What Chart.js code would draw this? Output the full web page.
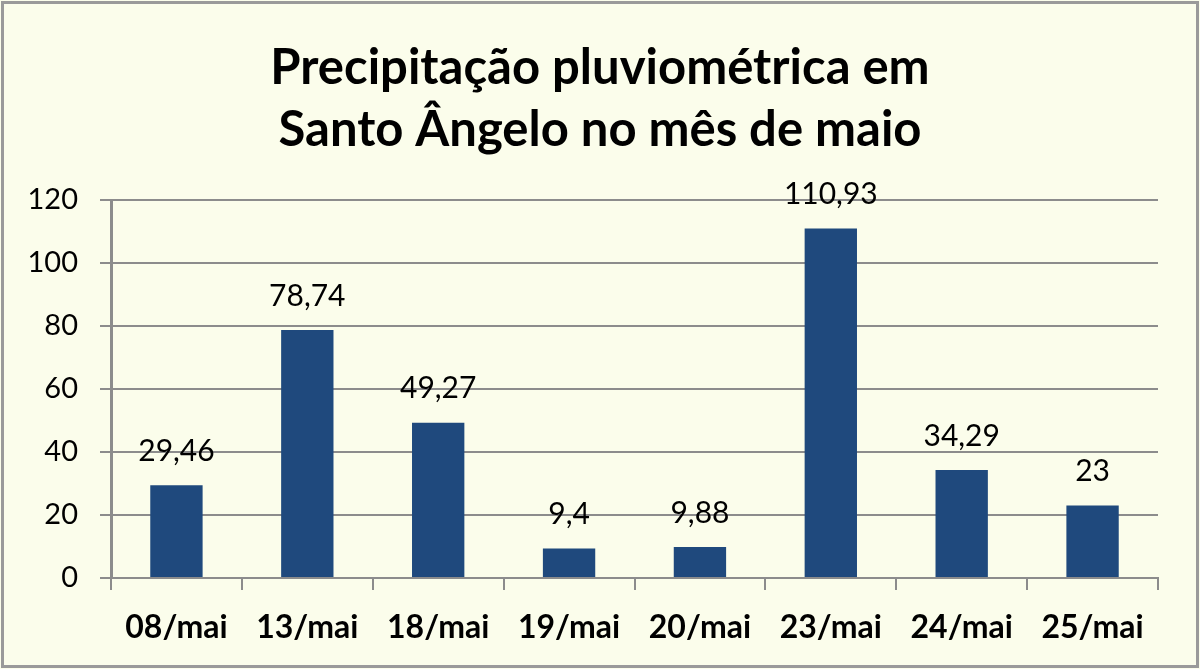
<!DOCTYPE html>
<html>
<head>
<meta charset="utf-8">
<script src="https://cdn.jsdelivr.net/npm/chart.js@4.4.1/dist/chart.umd.min.js"></script>
<style>
  html, body { margin: 0; padding: 0; background: #fbfdeb; }
  .chart-container { width: 1200px; height: 669px; position: relative; }
</style>
</head>
<body>
<div class="chart-container"><canvas id="rainChart" width="1200" height="669"></canvas></div>
<script>
const titleLines = ['Precipitação pluviométrica em', 'Santo Ângelo no mês de maio'];
const days = ['08/mai', '13/mai', '18/mai', '19/mai', '20/mai', '23/mai', '24/mai', '25/mai'];
const rainfall = [29.46, 78.74, 49.27, 9.4, 9.88, 110.93, 34.29, 23];
const yTicks = [0, 20, 40, 60, 80, 100, 120];

const gridGray = '#8c8c8c';

// fundo creme e moldura cinza
const frame = {
    id: 'frame',
    beforeDraw(chart) {
        const ctx = chart.ctx;
        ctx.save();
        ctx.fillStyle = '#fbfdeb';
        ctx.fillRect(0, 0, chart.width, chart.height);
        ctx.strokeStyle = '#9a9a9a';
        ctx.lineWidth = 3;
        ctx.strokeRect(2.5, 2.5, chart.width - 5, chart.height - 5);
        ctx.restore();
    }
};

// rótulos dos valores acima das barras, com vírgula decimal
const valueLabels = {
    id: 'valueLabels',
    afterDatasetsDraw(chart) {
        const ctx = chart.ctx;
        ctx.save();
        ctx.font = '30px Lato';
        ctx.fillStyle = '#000';
        ctx.textAlign = 'center';
        ctx.textBaseline = 'middle';
        chart.getDatasetMeta(0).data.forEach((bar, i) => {
            ctx.fillText(String(rainfall[i]).replace('.', ','), bar.x, bar.y - 34);
        });
        ctx.restore();
    }
};

new Chart(document.getElementById('rainChart'), {
    type: 'bar',
    data: {
        labels: days,
        datasets: [{
            data: rainfall,
            backgroundColor: '#1f497d',
            borderWidth: 0,
            categoryPercentage: 1,
            barPercentage: 0.4
        }]
    },
    options: {
        responsive: false,
        animation: false,
        devicePixelRatio: 1,
        layout: { padding: 0 },
        plugins: {
            legend: { display: false },
            tooltip: { enabled: false },
            title: {
                display: true,
                text: titleLines,
                color: '#000',
                font: { family: 'Lato', size: 49, weight: 'bold', lineHeight: 62 / 49 },
                padding: { top: 37, bottom: 39 }
            }
        },
        scales: {
            x: {
                grid: {
                    drawOnChartArea: false,
                    drawTicks: true,
                    tickLength: 12,
                    color: gridGray,
                    lineWidth: 2
                },
                border: { display: true, color: gridGray, width: 2 },
                ticks: {
                    color: '#000',
                    padding: 18,
                    font: { family: 'Lato', size: 32, weight: 'bold' }
                },
                afterFit(scale) { scale.height = 91; }
            },
            y: {
                min: 0,
                max: 120,
                afterBuildTicks(scale) { scale.ticks = yTicks.map(v => ({ value: v })); },
                grid: {
                    color: gridGray,
                    lineWidth: 2,
                    tickLength: 11
                },
                border: { display: true, color: gridGray, width: 3 },
                ticks: {
                    color: '#000',
                    padding: 22,
                    font: { family: 'Lato', size: 29 }
                },
                afterFit(scale) { scale.width = 111; }
            },
            // eixo vazio à direita, só para deixar a margem e manter o título centrado
            spacer: {
                type: 'linear',
                position: 'right',
                grid: { display: false },
                border: { display: false },
                ticks: { display: false },
                afterFit(scale) { scale.width = 42; }
            }
        }
    },
    plugins: [frame, valueLabels]
});
</script>
</body>
</html>
